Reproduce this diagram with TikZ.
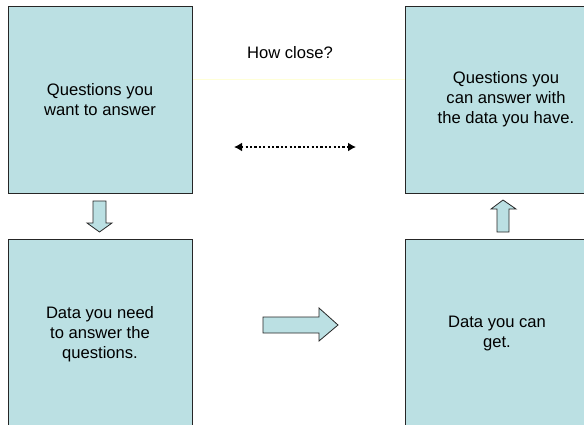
\documentclass[tikz,border=0pt]{standalone}
\usepackage{fontspec}
\setmainfont{Liberation Sans}
\usetikzlibrary{arrows.meta}
\definecolor{boxfill}{RGB}{187,224,227}
\definecolor{paleline}{RGB}{255,255,215}
\tikzset{
  panel/.style={draw=black!85, line width=0.9pt, fill=boxfill, inner sep=0pt,
    align=center, font=\fontsize{16.6}{20}\selectfont},
  blockarrow/.style={draw=black!85, line width=0.8pt, fill=boxfill, line join=miter},
  gaparrow/.style={line width=2.2pt, dash pattern=on 2.2pt off 2.2pt,
    {Latex[length=8pt,width=9pt]}-{Latex[length=8pt,width=9pt]}},
}
\begin{document}
\begin{tikzpicture}[x=1pt,y=-1pt]
  \useasboundingbox (0,0) rectangle (584,424);
  \clip (0,0) rectangle (584,424);

  % faint guide line between the top panels
  \draw[paleline, line width=0.8pt] (192,79) -- (405,79);

  % the four panels
  \node[panel, minimum width=184pt, minimum height=187pt] (want) at (100,99.5)
    {Questions you\\want to answer};
  \node[panel, minimum width=202pt, minimum height=187pt] (can) at (506,99.5)
    {Questions you\\can answer with\\the data you have.};
  \node[panel, minimum width=184pt, minimum height=190pt] (need) at (100,334)
    {Data you need\\to answer the\\questions.};
  \node[panel, minimum width=184pt, minimum height=190pt] (get) at (497,334)
    {Data you can\\get.};

  % label above the comparison arrow
  \node[font=\fontsize{16.6}{20}\selectfont, inner sep=0pt] (howclose) at (290,53) {How close?};

  % comparison arrow between the top panels
  \coordinate (gapL) at (234,147);
  \coordinate (gapR) at (356,147);
  \draw[gaparrow] (gapL) -- (gapR);

  % block arrow: want -> need (down)
  \draw[blockarrow] (93,201) -- (106,201) -- (106,223) -- (112,223) -- (99.5,232)
    -- (87,223) -- (93,223) -- cycle;

  % block arrow: need -> get (right)
  \draw[blockarrow] (263,317) -- (319,317) -- (319,308) -- (338,325) -- (319,341)
    -- (319,333) -- (263,333) -- cycle;

  % block arrow: get -> can (up)
  \draw[blockarrow] (497,232) -- (497,209) -- (491,209) -- (503,200) -- (516,209)
    -- (509,209) -- (509,232) -- cycle;
\end{tikzpicture}
\end{document}
